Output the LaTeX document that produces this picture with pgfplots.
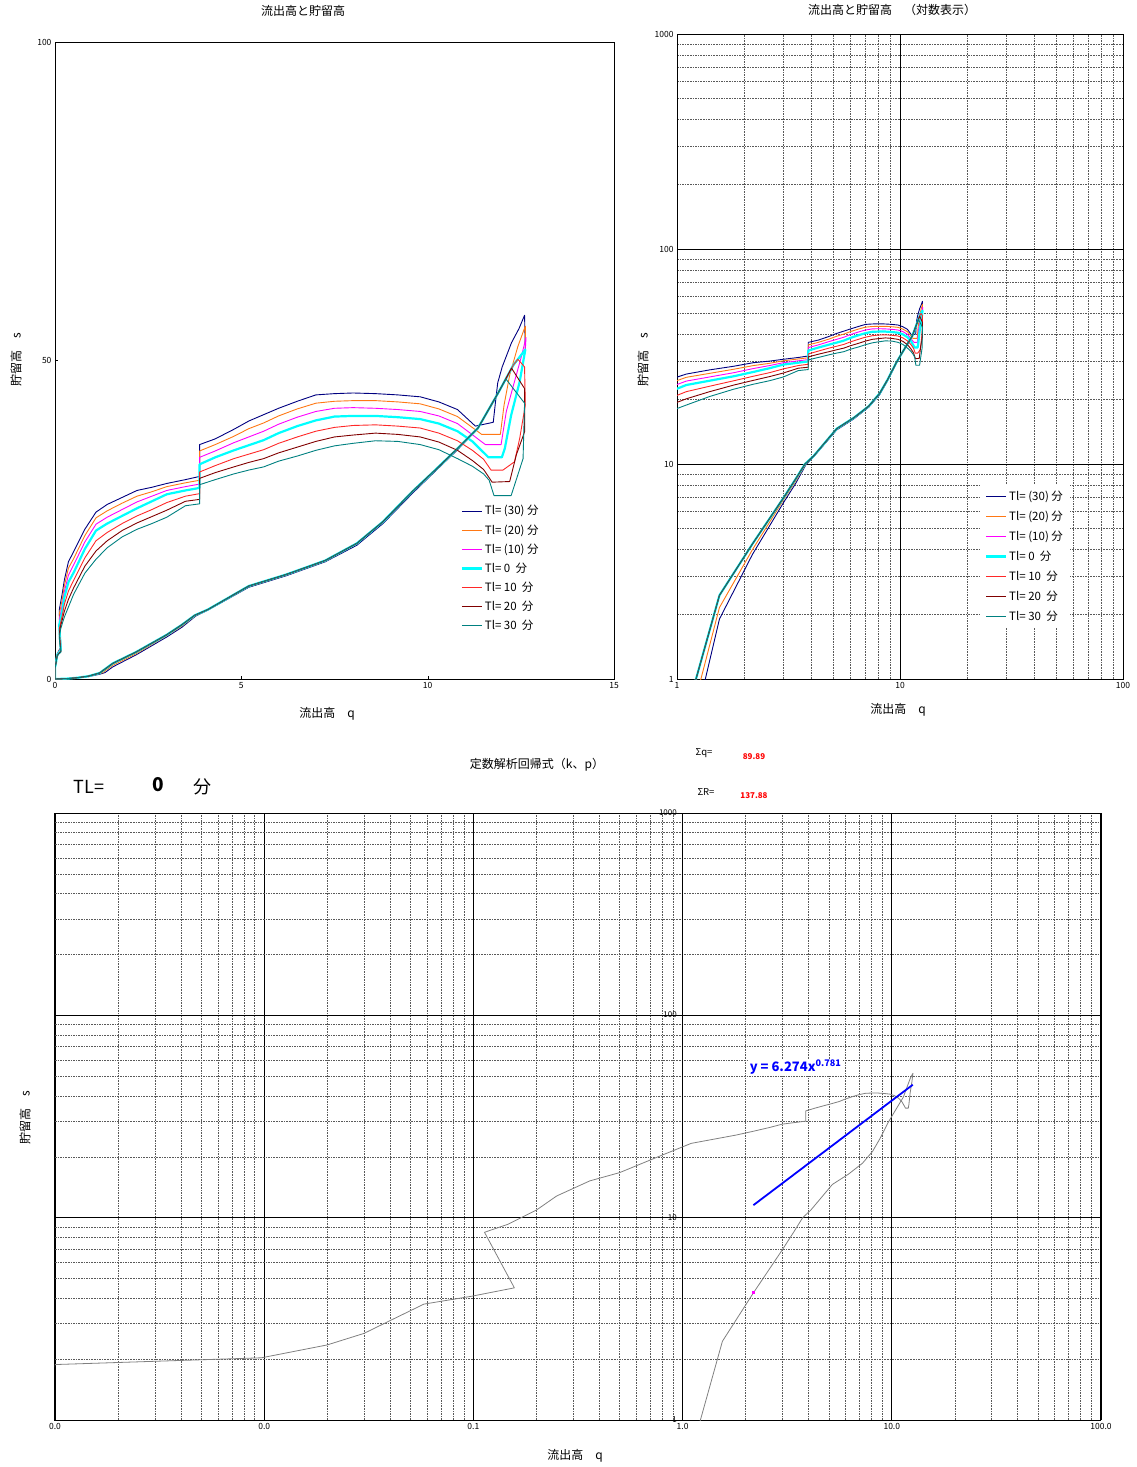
\documentclass[border=0pt]{standalone}
\usepackage{fontspec}
\setmainfont{Noto Sans CJK JP}
\usepackage{pgfplots}
\usepackage{pgfplotstable}
\pgfplotsset{compat=1.18}

\definecolor{cA}{RGB}{0,0,128}
\definecolor{cB}{RGB}{255,120,20}
\definecolor{cC}{RGB}{255,0,255}
\definecolor{cD}{RGB}{0,255,255}
\definecolor{cE}{RGB}{255,40,40}
\definecolor{cF}{RGB}{128,0,0}
\definecolor{cG}{RGB}{0,128,128}
\definecolor{gline}{RGB}{128,128,128}

% TL=(30)
\pgfplotstableread{
q s
0.0001 0.0001
0.3 0.04
0.6 0.15
0.9 0.38
1.2 0.75
1.34 1.0
1.55 1.9
2.18 3.8
3.0 6.6
3.4 8.1
3.78 9.9
4.1 10.8
5.2 14.4
6.2 16.2
7.25 18.4
8.1 21.0
8.8 24.4
9.6 29.2
10.2 32.6
10.75 35.7
11.35 39.3
11.9 44.9
12.3 49.2
12.62 51.7
12.60 57.1
12.45 55.0
12.25 52.8
12.0 49.0
11.88 46.5
11.82 43.5
11.76 40.3
11.28 39.7
10.8 42.3
10.3 43.5
9.8 44.3
9.2 44.6
8.6 44.8
8.0 44.9
7.5 44.8
7.0 44.6
6.5 43.6
6.0 42.5
5.6 41.5
5.2 40.5
4.8 39.2
4.3 37.7
3.88 36.8
3.88 31.8
3.5 31.3
3.0 30.7
2.6 30.1
2.2 29.6
1.8 28.5
1.4 27.4
1.1 26.2
0.8 23.5
0.5 20.0
0.36 18.4
0.25 15.5
0.2 13.6
0.15 12.0
0.113 10.8
0.157 5.0
0.098 4.4
0.058 3.9
0.041 3.3
0.03 2.8
0.02 2.45
0.0097 2.1
0.001 1.92
0.0001 0.0001
}\tA

% TL=(20)
\pgfplotstableread{
q s
0.0001 0.0001
0.3 0.045
0.6 0.17
0.9 0.42
1.2 0.85
1.28 1.0
1.55 2.15
2.18 4.0
3.0 6.8
3.4 8.3
3.77 9.95
4.1 10.85
5.2 14.5
6.2 16.3
7.25 18.5
8.1 21.2
8.8 24.6
9.6 29.4
10.2 32.7
10.75 35.8
11.35 39.4
11.9 45.0
12.3 49.3
12.62 51.7
12.62 55.4
12.42 52.2
12.2 47.7
12.05 43.0
11.95 38.4
11.45 38.4
10.8 41.2
10.3 42.4
9.8 43.2
9.2 43.5
8.6 43.7
8.0 43.7
7.5 43.6
7.0 43.3
6.5 42.4
6.0 41.3
5.6 40.2
5.2 39.3
4.8 38.1
4.3 36.8
3.88 35.8
3.88 31.2
3.5 30.8
3.0 30.2
2.6 29.4
2.2 28.7
1.8 27.6
1.4 26.4
1.1 25.3
0.8 22.5
0.5 18.9
0.36 17.4
0.25 14.6
0.2 12.7
0.15 11.2
0.113 10.1
0.157 4.85
0.098 4.3
0.058 3.85
0.041 3.25
0.03 2.75
0.02 2.42
0.0097 2.08
0.001 1.9
0.0001 0.0001
}\tB

% TL=(10)
\pgfplotstableread{
q s
0.0001 0.0001
0.3 0.05
0.6 0.2
0.9 0.45
1.2 0.95
1.55 2.45
2.18 4.25
3.0 6.95
3.4 8.5
3.75 10.0
4.1 10.9
5.2 14.6
6.2 16.4
7.25 18.6
8.1 21.3
8.8 24.7
9.6 29.5
10.2 32.8
10.75 35.9
11.35 39.4
11.9 45.0
12.3 49.3
12.62 51.7
12.64 53.6
12.5 50.3
12.33 46.7
12.11 42.0
11.97 36.8
11.55 36.8
10.8 40.1
10.3 41.3
9.8 42.0
9.2 42.3
8.6 42.5
8.0 42.6
7.5 42.5
7.0 42.0
6.5 41.1
6.0 40.0
5.6 38.9
5.2 38.0
4.8 37.1
4.3 35.8
3.88 34.8
3.88 30.6
3.5 30.2
3.0 29.6
2.6 28.7
2.2 27.8
1.8 26.6
1.4 25.4
1.1 24.3
0.8 21.5
0.5 17.9
0.36 16.3
0.25 13.7
0.2 11.8
0.15 10.3
0.113 9.3
0.157 4.7
0.098 4.2
0.058 3.8
0.041 3.2
0.03 2.72
0.02 2.38
0.0097 2.05
0.001 1.89
0.0001 0.0001
}\tC

% TL=0
\pgfplotstableread{
q s
0.0001 0.0001
0.3 0.05
0.6 0.2
0.9 0.45
1.2 0.95
1.55 2.45
2.18 4.25
3.0 6.95
3.4 8.5
3.75 10.0
4.1 10.9
5.2 14.6
6.2 16.4
7.25 18.6
8.1 21.3
8.8 24.7
9.6 29.5
10.2 32.8
10.75 35.9
11.35 39.4
11.9 45.0
12.3 49.3
12.62 51.7
12.47 46.7
12.24 41.4
12.07 36.2
11.99 34.8
11.63 34.8
11.2 37.3
10.8 38.9
10.3 40.1
9.8 40.8
9.2 41.1
8.6 41.3
8.0 41.3
7.5 41.2
7.0 40.6
6.5 39.7
6.0 38.6
5.6 37.5
5.2 36.7
4.8 35.9
4.3 34.8
3.88 33.7
3.88 30.0
3.5 29.6
3.0 29.0
2.6 27.9
2.2 26.8
1.8 25.6
1.4 24.4
1.1 23.3
0.8 20.4
0.5 16.7
0.36 15.2
0.25 12.8
0.2 10.9
0.146 9.27
0.113 8.47
0.157 4.5
0.098 4.09
0.058 3.74
0.041 3.14
0.03 2.68
0.02 2.35
0.0097 2.03
0.001 1.88
0.0001 0.0001
}\tD

% TL=10
\pgfplotstableread{
q s
0.0001 0.0001
0.3 0.05
0.6 0.2
0.9 0.45
1.2 0.95
1.55 2.45
2.18 4.25
3.0 6.95
3.4 8.5
3.75 10.0
4.1 10.9
5.2 14.6
6.2 16.4
7.25 18.6
8.1 21.3
8.8 24.7
9.6 29.5
10.2 32.8
10.75 35.9
11.35 39.4
11.9 45.0
12.3 49.3
12.42 50.2
12.6 49.0
12.62 43.0
12.47 37.8
12.33 34.1
12.02 32.8
11.7 32.8
11.5 34.5
11.2 35.9
10.8 37.4
10.3 38.6
9.8 39.4
9.2 39.7
8.6 39.9
8.0 39.8
7.5 39.5
7.0 38.9
6.5 38.0
6.0 37.0
5.6 36.0
5.2 35.3
4.8 34.6
4.3 33.5
3.88 32.5
3.88 29.1
3.5 28.7
3.0 27.7
2.6 26.6
2.2 25.6
1.8 24.4
1.4 23.0
1.1 21.7
0.8 19.0
0.5 15.5
0.36 13.8
0.25 11.7
0.2 10.1
0.15 8.8
0.113 7.8
0.157 4.4
0.098 4.0
0.058 3.68
0.041 3.1
0.03 2.65
0.02 2.32
0.0097 2.01
0.001 1.87
0.0001 0.0001
}\tE

% TL=20
\pgfplotstableread{
q s
0.0001 0.0001
0.3 0.05
0.6 0.2
0.9 0.45
1.2 0.95
1.55 2.45
2.18 4.25
3.0 6.95
3.4 8.5
3.75 10.0
4.1 10.9
5.2 14.6
6.2 16.4
7.25 18.6
8.1 21.3
8.8 24.7
9.6 29.5
10.2 32.8
10.75 35.9
11.35 39.4
11.9 45.0
12.25 48.8
12.6 45.6
12.6 38.8
12.38 35.2
12.2 31.0
11.73 30.9
11.5 32.9
11.2 34.3
10.8 35.9
10.3 37.2
9.8 38.0
9.2 38.4
8.6 38.6
8.0 38.3
7.5 38.0
7.0 37.3
6.5 36.4
6.0 35.5
5.6 34.6
5.2 34.0
4.8 33.3
4.3 32.4
3.88 31.5
3.88 28.2
3.5 27.9
3.0 26.5
2.6 25.5
2.2 24.5
1.8 23.3
1.4 21.7
1.1 20.1
0.8 17.7
0.5 14.3
0.36 12.5
0.25 10.6
0.2 9.4
0.15 8.3
0.113 7.1
0.157 4.3
0.098 3.95
0.058 3.62
0.041 3.05
0.03 2.62
0.02 2.3
0.0097 2.0
0.001 1.86
0.0001 0.0001
}\tF

% TL=30
\pgfplotstableread{
q s
0.0001 0.0001
0.3 0.05
0.6 0.2
0.9 0.45
1.2 0.95
1.55 2.45
2.18 4.25
3.0 6.95
3.4 8.5
3.75 10.0
4.1 10.9
5.2 14.6
6.2 16.4
7.25 18.6
8.1 21.3
8.8 24.7
9.6 29.5
10.2 32.8
10.75 35.9
11.35 39.4
11.9 45.0
12.1 47.1
12.6 43.3
12.56 34.6
12.24 28.8
11.78 28.8
11.65 31.2
11.5 32.2
11.2 33.4
10.8 34.6
10.3 36.0
9.8 36.8
9.2 37.3
8.6 37.4
8.0 37.0
7.5 36.6
7.0 35.9
6.5 35.0
6.0 34.2
5.6 33.3
5.2 32.8
4.8 32.2
4.3 31.3
3.88 30.5
3.88 27.5
3.5 27.2
3.0 25.4
2.6 24.4
2.2 23.5
1.8 22.3
1.4 20.6
1.1 18.8
0.8 16.6
0.5 13.3
0.36 11.3
0.25 9.7
0.2 8.8
0.15 7.8
0.113 6.5
0.157 4.2
0.098 3.9
0.058 3.58
0.041 3.0
0.03 2.6
0.02 2.28
0.0097 1.99
0.001 1.85
0.0001 0.0001
}\tG

\pgfplotsset{
  every axis/.append style={
    scale only axis,
    /pgf/number format/assume math mode=true,
    tick label style={font=\fontsize{8.5}{9}\selectfont},
    axis line style={line width=1pt},
  },
  sl/.style={line width=0.9pt, line join=round},
  loggrid/.style={
    grid=both,
    major grid style={black, line width=0.8pt},
    minor grid style={black!65, line width=0.5pt, dash pattern=on 1.6pt off 1pt},
    major tick length=0pt, minor tick length=0pt,
  },
  leg/.style={
    legend cell align=left,
    legend image code/.code={\draw[##1] (0pt,0pt) -- (20pt,0pt);},
  },
}

\newcommand{\lab}{\fontsize{12}{13}\selectfont}

\begin{document}
\begin{tikzpicture}
\path[use as bounding box] (0,0) rectangle (1137pt,-1467pt);

% ---------- top-left linear ----------
\begin{axis}[at={(55pt,-679pt)}, anchor=south west, width=559pt, height=637pt,
  xmin=0, xmax=15, ymin=0, ymax=100,
  xtick={0,5,10,15}, ytick={0,50,100},
  tick pos=left, major tick length=3pt, tick style={black},
  leg,
  legend style={at={(0.72,0.279)}, anchor=north west, draw=none, fill=none,
    font=\fontsize{11.5}{13}\selectfont, row sep=4.2pt},
]
\addplot[cA, sl] table {\tA};
\addplot[cB, sl] table {\tB};
\addplot[cC, sl] table {\tC};
\addplot[cD, line width=2.2pt, line join=round] table {\tD};
\addplot[cE, sl] table {\tE};
\addplot[cF, sl] table {\tF};
\addplot[cG, sl] table {\tG};
\legend{Tl= (30) 分, Tl= (20) 分, Tl= (10) 分, Tl= 0\ \ 分, Tl= 10\ \ 分, Tl= 20\ \ 分, Tl= 30\ \ 分}
\end{axis}

% ---------- top-right log ----------
\begin{axis}[at={(677pt,-679pt)}, anchor=south west, width=446pt, height=645pt,
  xmode=log, ymode=log, xmin=1, xmax=100, ymin=1, ymax=1000,
  xtick={1,10,100}, xticklabels={1,10,100},
  ytick={1,10,100,1000}, yticklabels={1,10,100,1000},
  minor xtick={2,3,4,5,6,7,8,9,20,30,40,50,60,70,80,90},
  minor ytick={2,3,4,5,6,7,8,9,20,30,40,50,60,70,80,90,200,300,400,500,600,700,800,900},
  loggrid,
  leg,
  legend style={at={(0.679,0.301)}, anchor=north west, draw=none, fill=white,
    font=\fontsize{11.5}{13}\selectfont, row sep=5pt, inner xsep=5pt, inner ysep=4pt},
]
\addplot[cA, sl] table {\tA};
\addplot[cB, sl] table {\tB};
\addplot[cC, sl] table {\tC};
\addplot[cD, line width=2.2pt, line join=round] table {\tD};
\addplot[cE, sl] table {\tE};
\addplot[cF, sl] table {\tF};
\addplot[cG, sl] table {\tG};
\legend{Tl= (30) 分, Tl= (20) 分, Tl= (10) 分, Tl= 0\ \ 分, Tl= 10\ \ 分, Tl= 20\ \ 分, Tl= 30\ \ 分}
\end{axis}

% ---------- bottom log ----------
\begin{axis}[at={(55pt,-1420pt)}, anchor=south west, width=1046pt, height=607pt,
  xmode=log, ymode=log, xmin=0.001, xmax=100, ymin=1, ymax=1000,
  xtick={0.001,0.01,0.1,1,10,100}, xticklabels={0.0,0.0,0.1,1.0,10.0,100.0},
  ytick={1,10,100,1000}, yticklabels={,,,},
  minor xtick={0.002,0.003,0.004,0.005,0.006,0.007,0.008,0.009,
    0.02,0.03,0.04,0.05,0.06,0.07,0.08,0.09,
    0.2,0.3,0.4,0.5,0.6,0.7,0.8,0.9,
    2,3,4,5,6,7,8,9,20,30,40,50,60,70,80,90},
  minor ytick={2,3,4,5,6,7,8,9,20,30,40,50,60,70,80,90,200,300,400,500,600,700,800,900},
  loggrid,
  extra x ticks={1}, extra x tick labels={},
  extra x tick style={grid style={black, line width=1.3pt}},
]
\addplot[gline, line width=0.8pt, line join=round] table {\tD};
\addplot[blue, line width=1.8pt] coordinates {(2.18,11.53) (12.6,45.4)};
\addplot[only marks, mark=square*, mark size=1.2pt, color=cC] coordinates {(2.18,4.27)};
\node[fill=white, inner sep=1.5pt, text=blue, font=\bfseries\fontsize{13}{14}\selectfont]
  at (axis cs:3.47,55.5) {y = 6.274x\textsuperscript{0.781}};
\end{axis}

% ---------- texts ----------
\node[font=\lab] at (303pt,-11pt) {流出高と貯留高};
\node[font=\lab] at (327pt,-714pt) {流出高　q};
\node[font=\lab, rotate=90] at (16pt,-360pt) {貯留高　s};

\node[font=\lab] at (892pt,-10pt) {流出高と貯留高　（対数表示）};
\node[font=\lab] at (898pt,-710pt) {流出高　q};
\node[font=\lab, rotate=90] at (643pt,-360pt) {貯留高　s};

\node[font=\lab] at (537pt,-765pt) {定数解析回帰式（k、p）};
\node[font=\fontsize{18}{20}\selectfont] at (89pt,-787pt) {TL=};
\node[font=\bfseries\fontsize{19}{20}\selectfont] at (158pt,-785pt) {0};
\node[font=\fontsize{18}{20}\selectfont] at (202pt,-787pt) {分};
\node[font=\fontsize{9.5}{10}\selectfont] at (704pt,-753pt) {Σq=};
\node[font=\bfseries\fontsize{8}{9}\selectfont, text=red] at (754pt,-757pt) {89.89};
\node[font=\fontsize{9.5}{10}\selectfont] at (706pt,-792pt) {ΣR=};
\node[font=\bfseries\fontsize{8}{9}\selectfont, text=red] at (754pt,-796pt) {137.88};
\node[font=\lab] at (575pt,-1456pt) {流出高　q};
\node[font=\lab, rotate=90] at (25pt,-1118pt) {貯留高　s};

\node[anchor=east, font=\fontsize{8}{9}\selectfont, inner sep=1pt] at (678pt,-813pt) {1000};
\node[anchor=east, font=\fontsize{8}{9}\selectfont, inner sep=1pt] at (678pt,-1015pt) {100};
\node[anchor=east, font=\fontsize{8}{9}\selectfont, inner sep=1pt] at (678pt,-1218pt) {10};
\node[anchor=east, font=\fontsize{8}{9}\selectfont, inner sep=1pt] at (678pt,-1420pt) {1};
\end{tikzpicture}
\end{document}
